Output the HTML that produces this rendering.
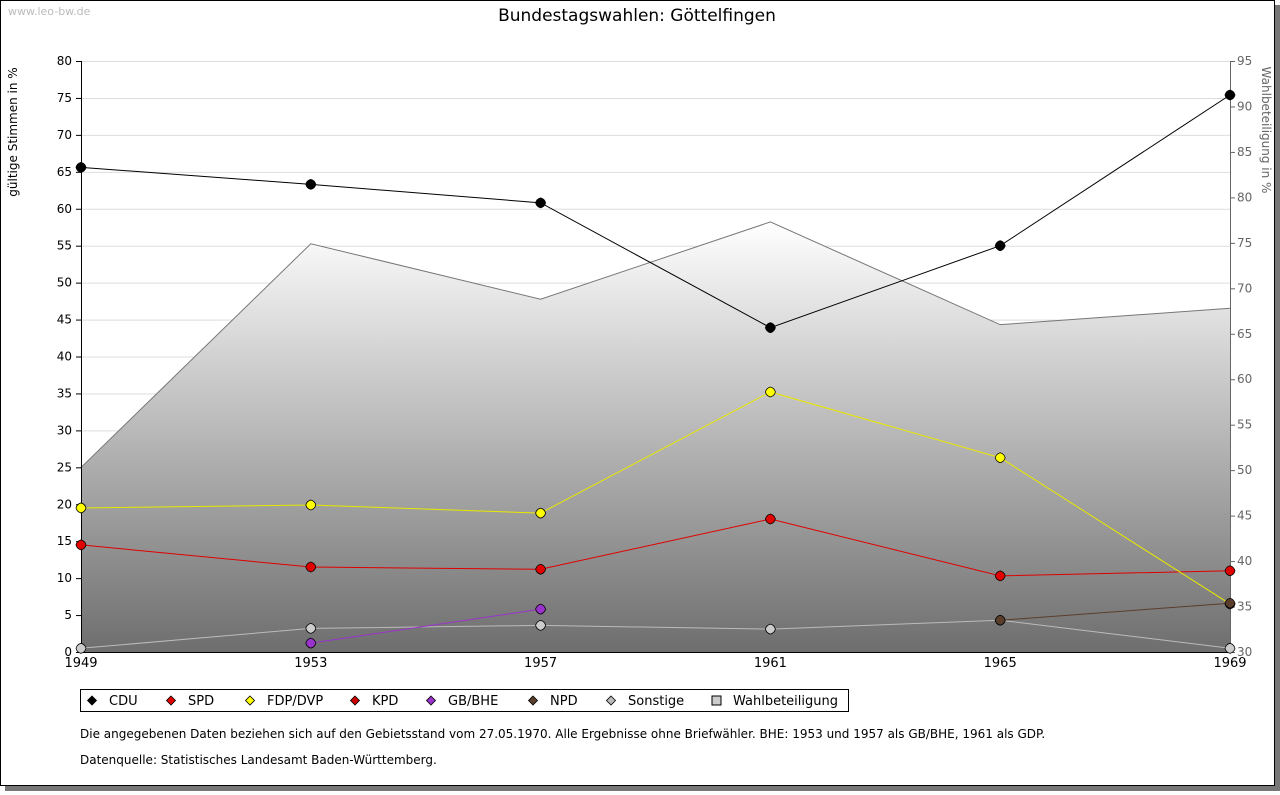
<!DOCTYPE html>
<html><head><meta charset="utf-8"><style>
body{margin:0;background:#fff;font-family:"DejaVu Sans","Liberation Sans",sans-serif}
</style></head><body>
<svg id="chart" width="1280" height="791" xmlns="http://www.w3.org/2000/svg" font-family="DejaVu Sans, Liberation Sans, sans-serif">
<defs>
<linearGradient id="turnGrad" x1="0" y1="0" x2="0" y2="1" gradientUnits="objectBoundingBox">
<stop offset="0" stop-color="#ffffff"/><stop offset="1" stop-color="#6e6e6e"/></linearGradient>
</defs>
<rect x="5" y="5" width="1275" height="786" fill="#777"/>
<rect x="0.5" y="0.5" width="1274" height="785" fill="#fff" stroke="#000"/>
<text x="8" y="15" font-size="11" fill="#bbb">www.leo-bw.de</text>
<text x="637" y="21" font-size="17" text-anchor="middle" fill="#000">Bundestagswahlen: Göttelfingen</text>
<text transform="translate(17,132) rotate(-90)" font-size="12" text-anchor="middle">gültige Stimmen in %</text>
<text transform="translate(1262,130) rotate(90)" font-size="12" text-anchor="middle" fill="#666">Wahlbeteiligung in %</text>
<g id="grid"></g><g id="area"></g><g id="axes"></g><g id="series"></g>
<g>
<rect x="80.5" y="689.5" width="768" height="22" fill="#fff" stroke="#000"/>
<g id="legend"></g>
</g>
<text x="80" y="738" font-size="12">Die angegebenen Daten beziehen sich auf den Gebietsstand vom 27.05.1970. Alle Ergebnisse ohne Briefwähler. BHE: 1953 und 1957 als GB/BHE, 1961 als GDP.</text>
<text x="80" y="764" font-size="12">Datenquelle: Statistisches Landesamt Baden-Württemberg.</text>
</svg>
<script>
const years=["1949","1953","1957","1961","1965","1969"];
const cdu=[65.6,63.3,60.8,43.9,55.0,75.4];
const spd=[14.5,11.5,11.2,18.0,10.3,11.0];
const fdp=[19.5,19.9,18.8,35.2,26.3,6.5];
const kpd=[null,null,null,null,null,null];
const gbbhe=[null,1.2,5.8,null,null,null];
const npd=[null,null,null,null,4.3,6.6];
const sonstige=[0.5,3.2,3.6,3.1,4.3,0.5];
const turnout=[50.3,74.9,68.8,77.3,66.0,67.8];
const leftTicks=[0,5,10,15,20,25,30,35,40,45,50,55,60,65,70,75,80];
const rightTicks=[30,35,40,45,50,55,60,65,70,75,80,85,90,95];
const X0=81,X1=1230,Y0=652,Y1=61;
const NS="http://www.w3.org/2000/svg";
const x=i=>X0+(X1-X0)*i/(years.length-1);
const yL=v=>Y0-(Y0-Y1)*v/80;
const yR=v=>Y0-(Y0-Y1)*(v-30)/65;
function mk(tag,attrs,parent,txt){const e=document.createElementNS(NS,tag);for(const k in attrs)e.setAttribute(k,attrs[k]);if(txt!==undefined)e.textContent=txt;document.getElementById(parent).appendChild(e);return e;}
leftTicks.forEach(t=>{
 if(t>0){const g=mk('line',{x1:X0,x2:X1,y1:yL(t)+.5,y2:yL(t)+.5,stroke:'#ddd'},'grid');
 
 }
 const tk=mk('line',{x1:X0-5,x2:X0,y1:yL(t)+.5,y2:yL(t)+.5,stroke:'#000'},'axes');
 
 
 const l=mk('text',{x:X0-9,y:yL(t)+4,'font-size':12,'text-anchor':'end'},'axes',t);
 
 
});
rightTicks.forEach(t=>{
 const tk=mk('line',{x1:X1,x2:X1+5,y1:yR(t)+.5,y2:yR(t)+.5,stroke:'#666'},'axes');
 
 
 const l=mk('text',{x:X1+7,y:yR(t)+4,'font-size':12,fill:'#666'},'axes',t);
 
 
});
let pts=turnout.map((v,i)=>x(i)+','+yR(v)).join(' ');
const ar=mk('polygon',{points:X0+','+Y0+' '+pts+' '+X1+','+Y0,fill:'url(#turnGrad)'},'area');


const al=mk('polyline',{points:pts,fill:'none',stroke:'#777'},'area');


const ax=mk('path',{d:`M${X0+.5},${Y1} V${Y0+.5} H${X1}`,stroke:'#000',fill:'none'},'axes');


mk('line',{x1:X1+.5,x2:X1+.5,y1:Y1,y2:Y0,stroke:'#666'},'axes');
years.forEach((yr,i)=>{
 const l=mk('text',{x:x(i),y:Y0+15,'font-size':13,'text-anchor':'middle'},'axes',yr);
 
 
});
const series=[["sonstige",sonstige,"#ccc","#bbb"],["gb-bhe",gbbhe,"#9933cc","#9933cc"],["kpd",kpd,"#aa0000","#aa0000"],["spd",spd,"#e00000","#e00000"],["fdp",fdp,"#ffff00","#e8e800"],["npd",npd,"#5a3e2b","#5a3e2b"],["cdu",cdu,"#000","#000"]];
series.forEach(([name,d,fill,line])=>{
 const p=[];d.forEach((v,i)=>{if(v!==null)p.push(x(i)+','+yL(v));});
 if(p.length>1){const pl=mk('polyline',{points:p.join(' '),fill:'none',stroke:line,'stroke-width':1},'series');
 
 }
 d.forEach((v,i)=>{if(v===null)return;const cx=x(i),cy=yL(v);
  const m=mk('path',{d:`M${cx},${cy-5} Q${cx+4},${cy-4} ${cx+5},${cy} Q${cx+4},${cy+4} ${cx},${cy+5} Q${cx-4},${cy+4} ${cx-5},${cy} Q${cx-4},${cy-4} ${cx},${cy-5}Z`,fill:fill,stroke:'#000','stroke-width':0.8},'series');
  
  
 });
});
const leg=[["CDU","#000",92],["SPD","#e00000",171],["FDP/DVP","#ffff00",250],["KPD","#cc0000",355],["GB/BHE","#9933cc",431],["NPD","#5a3e2b",533],["Sonstige","#bbb",611],["Wahlbeteiligung","sq",716]];
leg.forEach(([t,c,lx])=>{
 let m;
 if(c==='sq'){m=mk('rect',{x:lx-4,y:696,width:9,height:9,fill:'#ccc',stroke:'#000'},'legend');}
 else{m=mk('polygon',{points:`${lx},${696} ${lx+4.5},${700.5} ${lx},${705} ${lx-4.5},${700.5}`,fill:c,stroke:'#000','stroke-width':0.8},'legend');}
 
 
 const l=mk('text',{x:lx+17,y:705,'font-size':13},'legend',t);
 
 
});
</script>
</body></html>
